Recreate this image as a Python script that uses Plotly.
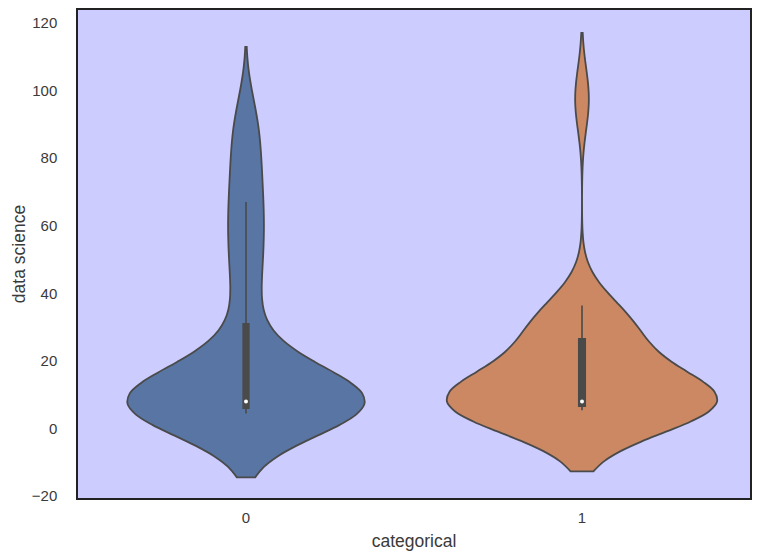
import numpy as np
import plotly.graph_objects as go

categories = ["0", "1"]
group0 = [4.4, 4.6, 4.8, 5.0, 5.2, 5.4, 5.5, 5.7, 5.8, 5.9,
          6.1, 6.3, 6.5, 6.8, 7.0, 7.2, 7.4, 7.6, 7.8, 7.9,
          8.1, 9.5, 11, 12.5, 14, 15.5, 17, 19, 22, 25,
          37, 43, 50, 56, 61, 67, 73, 80, 87, 94]
group1 = [5.4, 5.5, 5.6, 5.7, 5.8, 5.9, 6.0, 6.0, 6.1, 6.2, 6.3, 6.4, 6.4, 6.5,
          6.6, 6.7, 6.8, 6.9, 7.0, 7.1, 7.2, 7.3, 7.4, 7.5, 7.6, 7.7, 7.8, 7.9,
          8.1, 8.5, 9, 9.5, 10, 11, 12, 13, 14, 15.5, 17, 19, 22, 26,
          27, 27.5, 28, 28.5, 29, 29.5, 30, 31, 32, 33, 34.5, 36.4,
          96, 99]
y_ticks = [-20, 0, 20, 40, 60, 80, 100, 120]

groups = [group0, group1]
colors = ["#5875a4", "#cc8863"]
bandwidths = [9.45, 9.05]
widths = [0.705, 0.804]
outline = "#4a4a4a"

fig = go.Figure()
for i, (vals, col) in enumerate(zip(groups, colors)):
    fig.add_trace(go.Violin(
        x0=i, y=vals, name=categories[i],
        fillcolor=col, opacity=1,
        line=dict(color=outline, width=1.8),
        bandwidth=bandwidths[i], spanmode="soft",
        width=widths[i], scalemode="width",
        points=False, quartilemethod="linear",
        box=dict(visible=True, width=0.024, fillcolor=outline,
                 line=dict(color=outline, width=1.6)),
        meanline=dict(visible=False),
        hoverinfo="skip", showlegend=False,
    ))

fig.add_trace(go.Scatter(
    x=list(range(len(groups))), y=[float(np.median(g)) for g in groups],
    mode="markers", marker=dict(color="white", size=4, line=dict(width=0)),
    showlegend=False, hoverinfo="skip",
))

# page body adds an 8px offset, so margins are compensated
fig.update_layout(
    width=775, height=558,
    margin=dict(l=70, r=33, t=2, b=68),
    paper_bgcolor="white", plot_bgcolor="#ccccff",
    font=dict(family="Liberation Sans, Arial, sans-serif", size=15, color="#3a3a3a"),
    showlegend=False,
)
fig.update_xaxes(
    range=[-0.5, 1.5], tickvals=[0, 1], ticktext=categories,
    title=dict(text="categorical", standoff=10, font=dict(size=17.5)),
    showgrid=False, zeroline=False, automargin=False,
    showline=True, linecolor="#222222", linewidth=1.5, mirror=True,
    ticks="outside", ticklen=5, tickcolor="rgba(0,0,0,0)",
)
fig.update_yaxes(
    range=[-20.6, 123.85], tickvals=y_ticks,
    title=dict(text="data science", standoff=2, font=dict(size=17.5)),
    showgrid=False, zeroline=False, automargin=False,
    showline=True, linecolor="#222222", linewidth=1.5, mirror=True,
    ticks="outside", ticklen=16, tickcolor="rgba(0,0,0,0)",
)

fig.write_html("out.html")
